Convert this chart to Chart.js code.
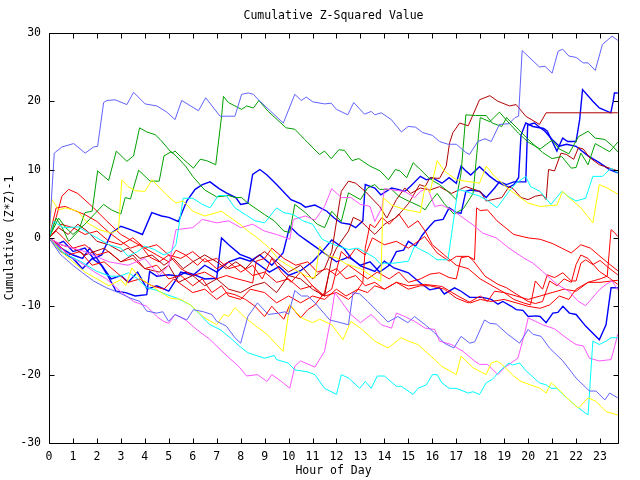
<!DOCTYPE html>
<html>
<head>
<meta charset="utf-8">
<script src="https://cdn.jsdelivr.net/npm/chart.js@4/dist/chart.umd.min.js"></script>
<style>
  body { margin: 0; background: #fff; }
</style>
</head>
<body>
<canvas id="chart" width="640" height="480"></canvas>
<script>
// Axis ticks
const hourTicks = [0, 1, 2, 3, 4, 5, 6, 7, 8, 9, 10, 11, 12, 13, 14, 15, 16, 17, 18, 19, 20, 21, 22, 23];
const valueTicks = [-30, -20, -10, 0, 10, 20, 30];

// Each series: [hour, cumulative value] vertices
const periwinkleHigh = [[0,0],[0.22,12.4],[0.54,13.3],[1.03,13.8],[1.51,12.4],[1.86,13.3],[2.03,13.4],[2.28,19.8],[2.42,20.1],[2.76,20.2],[3.25,19.5],[3.53,21.3],[4.01,19.6],[4.5,19.3],[4.92,18.4],[5.26,17.3],[5.54,20.1],[6.24,18.6],[6.54,20.5],[7.14,17.8],[7.76,17.8],[8.04,21.0],[8.32,21.2],[8.53,21.0],[8.74,20.2],[9.78,16.8],[10.26,21.0],[10.53,20.1],[10.74,20.6],[11.01,19.9],[11.5,19.6],[11.78,19.7],[12.0,18.8],[12.47,18.0],[12.72,19.8],[13.17,18.1],[13.45,18.5],[13.6,18.0],[13.87,18.3],[14.29,17.3],[14.71,15.5],[14.99,16.3],[15.3,16.2],[15.6,15.4],[16.0,15.0],[16.3,14.1],[16.65,13.7],[17.0,13.7],[17.4,12.5],[17.55,12.2],[17.9,14.1],[18.2,14.5],[18.46,14.1],[18.8,16.6],[19.2,16.7],[19.45,17.6],[19.6,17.8],[19.75,27.4],[20.47,25.0],[20.7,25.1],[21.0,24.1],[21.25,27.3],[21.44,27.6],[21.7,26.6],[22.0,26.4],[22.3,25.6],[22.5,25.6],[22.8,24.5],[23.1,28.3],[23.5,29.5],[23.74,28.9]];
const periwinkleLow = [[0,0],[0.47,-2.4],[1.03,-4.1],[1.4,-5.1],[1.86,-6.3],[2.4,-7.3],[2.9,-8.0],[3.39,-8.8],[3.8,-9.3],[4.08,-10.7],[4.5,-11.0],[4.75,-10.8],[4.99,-12.2],[5.26,-11.2],[5.75,-12.0],[6.03,-10.5],[6.44,-10.8],[6.8,-11.2],[7.0,-12.2],[7.4,-12.9],[7.76,-14.6],[8.0,-15.4],[8.3,-11.5],[8.7,-9.5],[9.15,-11.2],[9.6,-11.0],[9.85,-10.8],[10.0,-11.2],[10.26,-7.7],[10.54,-8.5],[10.8,-8.5],[11.1,-9.5],[11.72,-12.0],[12.06,-12.3],[12.5,-12.7],[12.69,-8.0],[12.97,-8.2],[13.3,-9.3],[13.7,-10.7],[14.15,-12.3],[14.56,-11.5],[14.98,-12.4],[15.26,-11.5],[15.7,-12.7],[16.1,-13.9],[16.5,-15.4],[16.9,-16.1],[17.2,-14.4],[17.56,-15.4],[17.77,-15.2],[18.18,-12.0],[18.4,-12.5],[18.67,-12.6],[19.15,-14.1],[19.64,-15.4],[20.0,-13.4],[20.2,-14.1],[20.54,-14.4],[20.89,-16.1],[21.45,-18.0],[22.0,-20.5],[22.56,-22.4],[22.83,-22.4],[23.2,-23.7],[23.4,-22.7],[23.74,-23.4]];
const greenHigh = [[0,0],[0.3,2.9],[0.55,1.5],[0.82,-0.5],[1.23,1.0],[1.5,3.7],[1.8,3.9],[2.03,9.8],[2.49,8.4],[2.81,12.7],[3.25,11.2],[3.53,12.0],[3.78,16.1],[4.08,15.5],[4.43,15.1],[4.64,14.4],[5.13,12.4],[5.26,12.7],[5.61,11.5],[6.03,10.2],[6.31,11.5],[6.58,11.3],[6.96,10.7],[7.21,18.0],[7.28,20.7],[7.49,19.8],[7.76,19.3],[8.04,18.8],[8.25,19.3],[8.53,19.0],[8.76,20.1],[9.15,18.5],[9.9,16.1],[10.26,15.9],[10.67,14.4],[11.29,12.2],[11.5,12.7],[11.78,11.6],[12.1,12.9],[12.33,12.8],[12.65,11.3],[12.93,11.6],[13.4,10.5],[13.82,9.8],[14.17,8.5],[14.46,10.0],[14.65,9.8],[14.93,8.8],[15.2,11.0],[15.5,10.0],[15.85,8.8],[16.05,8.3],[16.3,7.8],[16.65,6.8],[17.0,5.6],[17.2,9.5],[17.4,18.0],[17.8,17.9],[18.25,17.9],[18.5,16.8],[18.9,16.3],[19.1,17.6],[19.5,16.2],[20.0,14.4],[20.6,12.5],[21.0,11.6],[21.4,11.9],[21.8,10.2],[22.0,10.3],[22.2,12.4],[22.5,10.7],[22.8,13.8],[23.1,13.2],[23.4,12.6],[23.74,14.0]];
const greenLow = [[0,0],[0.4,2.9],[0.7,1.5],[1.0,0.5],[1.5,2.0],[2.28,4.9],[2.6,4.1],[3.0,3.5],[3.18,5.9],[3.4,5.7],[3.74,9.9],[4.22,8.3],[4.6,8.3],[4.8,12.0],[5.1,12.6],[5.3,12.0],[5.7,10.5],[6.0,9.0],[6.5,7.0],[7.0,6.0],[7.5,6.2],[7.76,5.9],[8.04,5.9],[8.3,5.1],[9.0,3.4],[9.4,2.5],[9.8,1.0],[10.05,0.8],[10.26,4.9],[10.7,3.7],[11.2,2.0],[11.5,1.5],[11.8,3.9],[12.2,2.4],[12.5,6.6],[13.0,5.6],[13.3,7.3],[13.6,7.8],[13.8,7.1],[14.3,7.1],[14.6,6.1],[15.0,5.4],[15.5,4.6],[15.7,4.1],[15.9,5.2],[16.2,6.5],[16.5,5.0],[16.9,3.5],[17.3,4.3],[17.7,6.5],[18.0,17.6],[18.4,17.0],[18.8,18.4],[19.2,16.8],[19.6,15.3],[20.0,14.0],[20.5,13.0],[21.0,14.3],[21.3,13.0],[21.7,12.3],[22.1,14.8],[22.5,15.6],[22.8,14.6],[23.2,14.4],[23.5,13.5],[23.74,12.6]];
const blueA = [[0,0],[0.3,-1.0],[0.6,-0.5],[1.0,-2.0],[1.5,-1.5],[1.86,-3.0],[2.2,-2.5],[2.6,0.7],[3.0,1.7],[3.4,1.2],[3.9,0.5],[4.29,3.7],[4.7,3.2],[5.0,3.0],[5.4,2.4],[5.75,5.4],[6.1,7.1],[6.4,7.8],[6.72,8.2],[7.1,7.2],[7.4,6.6],[7.8,5.9],[8.0,4.9],[8.3,5.1],[8.5,9.3],[8.8,10.0],[9.1,9.2],[9.5,7.8],[10.1,5.6],[10.5,5.0],[10.7,4.5],[11.1,4.8],[11.6,3.9],[11.9,2.9],[12.2,2.2],[12.55,2.0],[12.8,1.5],[13.1,2.5],[13.2,7.8],[13.6,7.3],[13.85,6.3],[14.3,7.3],[14.56,7.1],[14.85,6.8],[15.1,7.6],[15.5,9.0],[15.75,8.5],[16.0,8.8],[16.4,8.0],[16.7,8.8],[17.0,8.0],[17.2,10.5],[17.4,9.8],[17.6,9.2],[17.97,10.4],[18.4,9.0],[18.67,8.3],[18.94,7.8],[19.2,7.4],[19.4,7.8],[19.6,8.8],[19.7,15.0],[19.9,16.8],[20.2,16.3],[20.65,16.0],[20.8,15.6],[21.2,12.7],[21.44,14.6],[21.65,14.1],[22.0,14.1],[22.15,17.3],[22.27,21.7],[22.7,20.0],[22.97,19.0],[23.45,18.3],[23.55,20.0],[23.6,21.2],[23.74,21.2]];
const blueB = [[0,0],[0.5,-2.0],[1.0,-3.0],[1.4,-4.5],[1.8,-3.0],[2.2,-4.0],[2.6,-6.0],[3.0,-5.5],[3.3,-6.5],[3.7,-5.0],[4.1,-7.5],[4.5,-7.0],[5.0,-7.8],[5.5,-5.0],[6.0,-5.5],[6.5,-4.0],[7.0,-5.0],[7.5,-3.5],[7.97,-2.9],[8.4,-3.4],[8.8,-2.5],[9.3,-4.0],[9.77,-2.2],[10.05,1.7],[10.4,0.5],[10.8,-0.5],[11.2,-1.5],[11.6,-2.5],[12.0,-3.5],[12.5,-2.8],[13.0,-4.0],[13.4,-3.5],[13.8,-5.0],[14.2,-4.0],[14.5,-2.0],[14.8,-1.8],[15.0,-0.5],[15.3,-1.2],[15.6,0.5],[15.89,1.7],[16.1,2.5],[16.45,2.7],[16.7,4.4],[17.0,3.7],[17.2,3.6],[17.4,6.8],[17.6,7.0],[17.97,6.8],[18.25,5.9],[18.6,7.3],[18.8,8.2],[19.1,7.8],[19.4,8.2],[19.9,8.2],[19.98,16.5],[20.26,16.8],[20.4,16.4],[20.7,15.6],[21.0,14.4],[21.3,13.4],[21.6,13.7],[22.0,13.4],[22.5,12.0],[22.97,11.0],[23.4,10.0],[23.74,9.5]];
const blueC = [[0,0],[0.5,-1.5],[1.0,-2.5],[1.4,-3.0],[1.7,-1.5],[2.1,-3.5],[2.5,-5.8],[2.8,-7.8],[3.2,-8.0],[3.6,-8.5],[4.08,-8.3],[4.2,-4.9],[4.5,-5.6],[5.0,-5.4],[5.4,-5.6],[5.7,-5.0],[6.0,-5.3],[6.5,-6.0],[7.0,-5.9],[7.2,0.0],[7.5,-1.0],[7.97,-2.4],[8.4,-3.0],[8.8,-4.0],[9.2,-5.0],[9.6,-4.2],[10.0,-5.5],[10.5,-4.8],[11.0,-3.5],[11.4,-2.0],[11.8,-0.3],[12.3,-1.5],[12.6,-2.9],[13.0,-4.1],[13.6,-4.9],[14.0,-3.4],[14.4,-4.4],[15.0,-5.1],[15.5,-6.6],[15.89,-7.6],[16.3,-7.3],[16.5,-8.2],[16.93,-7.3],[17.2,-7.8],[17.56,-8.7],[18.1,-8.7],[18.46,-9.0],[18.74,-9.7],[18.94,-9.3],[19.3,-10.0],[19.5,-10.5],[19.78,-10.6],[20.0,-11.5],[20.33,-11.4],[20.5,-11.5],[20.75,-12.4],[21.03,-11.0],[21.24,-10.9],[21.45,-10.0],[21.72,-11.0],[22.0,-11.2],[22.4,-12.9],[22.97,-14.9],[23.25,-12.7],[23.46,-7.3],[23.74,-7.3]];
const darkRedA = [[0,0],[0.5,-1.0],[1.0,-1.5],[1.5,-2.5],[2.3,-1.5],[3.0,-3.5],[3.5,-2.5],[4.0,-4.5],[4.6,-5.0],[5.0,-4.0],[5.4,-6.5],[6.0,-5.5],[6.5,-7.0],[7.0,-6.0],[7.5,-7.5],[8.0,-8.0],[8.5,-7.0],[9.0,-6.5],[9.5,-8.0],[10.0,-5.5],[10.5,-6.0],[11.0,-7.5],[11.5,-8.5],[11.8,-3.0],[12.0,-1.5],[12.5,1.0],[12.7,3.0],[13.0,2.5],[13.3,1.5],[13.6,0.5],[14.0,2.0],[14.5,3.0],[15.0,5.0],[15.47,7.8],[15.7,7.5],[15.9,8.8],[16.3,8.7],[16.58,10.5],[16.72,13.9],[16.86,15.4],[17.14,16.8],[17.5,16.4],[17.97,20.2],[18.4,20.8],[18.73,20.0],[19.22,19.3],[19.5,19.5],[19.9,17.8],[20.47,16.6],[20.75,18.3],[23.74,18.3]];
const darkRedB = [[0,0],[0.4,1.5],[0.8,0.5],[1.2,2.0],[1.6,1.0],[2.0,-0.5],[2.5,-1.0],[3.0,-2.0],[3.3,-1.5],[3.8,-3.0],[4.3,-2.5],[4.8,-4.0],[5.2,-3.0],[5.6,-4.5],[6.0,-3.5],[6.5,-2.5],[7.0,-3.5],[7.4,-4.5],[7.8,-3.5],[8.2,-4.5],[8.6,-3.0],[9.0,-2.0],[9.5,-3.5],[10.0,-5.0],[10.5,-4.0],[11.0,-6.0],[11.5,-4.5],[11.8,-2.0],[12.2,6.8],[12.5,8.3],[12.8,8.0],[13.2,6.8],[13.8,4.6],[14.1,2.9],[14.5,5.6],[14.85,7.3],[15.1,6.5],[15.5,7.3],[15.9,7.0],[16.3,7.5],[16.8,6.5],[17.4,7.5],[18.0,6.8],[18.25,5.4],[18.9,5.9],[19.2,7.5],[19.4,7.1],[19.7,5.9],[20.0,5.6],[20.3,6.1],[20.6,6.3],[20.75,5.6],[20.85,10.0],[21.1,9.8],[21.37,12.4],[21.6,12.2],[21.9,11.5],[22.1,13.2],[22.3,13.0],[22.55,11.8],[22.97,10.7],[23.4,10.2],[23.74,9.8]];
const redA = [[0,0],[0.3,3.0],[0.54,6.1],[0.82,7.1],[1.2,6.5],[1.86,4.4],[2.4,2.5],[3.0,0.5],[3.5,-0.5],[4.0,-1.5],[4.5,-2.5],[5.0,-3.5],[5.3,-1.8],[5.7,-2.5],[6.2,-4.0],[6.5,-3.0],[7.0,-4.5],[7.5,-3.5],[8.0,-5.0],[8.5,-4.0],[8.9,-6.0],[9.3,-3.0],[9.7,-5.0],[10.1,-6.5],[10.5,-5.0],[11.0,-7.0],[11.4,-8.5],[11.8,-7.5],[12.2,-2.0],[12.5,-3.0],[12.8,-1.5],[13.2,-2.5],[13.5,0.0],[14.0,-1.0],[14.5,-0.5],[15.0,-1.5],[15.68,0.2],[16.2,-2.2],[16.7,-3.4],[17.0,-2.7],[17.5,-2.7],[17.76,-3.2],[17.85,4.4],[18.0,4.0],[18.3,4.1],[18.7,2.5],[19.4,0.5],[20.0,0.0],[20.5,-0.2],[21.0,-0.8],[21.4,-1.5],[21.8,-2.2],[22.2,-1.0],[22.6,-1.5],[23.0,-2.7],[23.45,-4.0],[23.74,-4.8]];
const redB = [[0,0],[0.3,4.4],[0.68,4.6],[1.0,4.1],[1.5,3.4],[2.0,2.4],[2.5,0.8],[3.0,-0.5],[3.4,-1.5],[3.8,-1.0],[4.2,-2.8],[4.6,-3.5],[5.0,-2.5],[5.5,-4.5],[6.0,-5.5],[6.5,-5.0],[7.0,-6.0],[7.4,-5.5],[7.76,-5.9],[8.2,-6.3],[8.5,-6.6],[8.65,-3.4],[9.0,-3.0],[9.3,-1.5],[9.8,-3.0],[10.3,-4.0],[10.8,-3.5],[11.2,-5.0],[11.6,-4.5],[12.0,-5.5],[12.5,-4.0],[12.9,-5.0],[13.3,-6.0],[13.7,-5.0],[14.2,-6.0],[14.6,-5.0],[15.0,-6.5],[15.5,-6.0],[15.9,-5.3],[16.3,-5.1],[16.7,-5.8],[17.0,-6.0],[17.2,-2.9],[17.5,-2.7],[17.7,-3.3],[18.2,-5.6],[18.74,-6.8],[19.1,-7.3],[19.5,-8.2],[20.0,-9.3],[20.3,-9.6],[20.6,-9.3],[20.9,-6.3],[21.2,-7.0],[21.5,-6.0],[21.8,-6.5],[22.0,-3.9],[22.2,-2.5],[22.5,-3.0],[22.97,-4.9],[23.4,-5.9],[23.74,-6.8]];
const redC = [[0,0],[0.4,-1.0],[0.8,-2.5],[1.3,-2.0],[1.8,-4.0],[2.3,-3.5],[2.8,-5.0],[3.3,-6.5],[3.8,-6.0],[4.3,-7.0],[4.8,-7.5],[5.2,-6.0],[5.6,-7.0],[6.0,-8.0],[6.5,-7.5],[7.0,-9.0],[7.4,-8.0],[7.76,-8.3],[8.2,-9.0],[8.6,-10.0],[9.0,-11.5],[9.3,-10.0],[9.8,-11.9],[10.05,-9.8],[10.5,-11.7],[10.8,-10.5],[11.1,-9.8],[11.5,-8.0],[11.7,-5.0],[12.0,-4.5],[12.4,-6.0],[12.8,-5.5],[13.2,-7.0],[13.6,-6.5],[14.0,-7.5],[14.5,-6.5],[15.0,-7.0],[15.68,-6.8],[16.4,-7.1],[17.07,-8.5],[17.6,-9.5],[18.0,-9.0],[18.46,-9.3],[19.0,-9.0],[19.5,-9.5],[20.0,-10.0],[20.5,-10.3],[20.9,-9.8],[21.3,-8.5],[21.7,-9.0],[22.0,-7.5],[22.5,-6.5],[23.0,-6.0],[23.3,-5.6],[23.46,1.2],[23.6,0.8],[23.74,0.2]];
const redD = [[0,0],[0.3,1.0],[0.6,0.0],[1.0,-1.5],[1.5,-1.0],[2.0,-2.5],[2.5,-2.0],[3.0,-3.5],[3.5,-3.0],[4.0,-4.5],[4.5,-4.0],[5.0,-6.0],[5.5,-5.5],[6.0,-7.0],[6.4,-6.0],[6.8,-8.0],[7.2,-7.0],[7.5,-8.5],[8.0,-9.0],[8.4,-7.5],[9.0,-8.0],[9.5,-9.5],[10.0,-8.5],[10.5,-9.5],[11.0,-8.5],[11.5,-9.0],[12.0,-7.5],[12.4,-8.5],[12.9,-7.5],[13.3,-8.0],[13.6,-7.0],[14.0,-7.5],[14.5,-6.5],[15.0,-7.5],[15.5,-7.0],[15.9,-7.0],[16.5,-7.5],[17.0,-8.8],[17.5,-9.5],[18.0,-8.5],[18.3,-9.3],[18.6,-7.8],[19.0,-8.0],[19.4,-9.0],[19.8,-9.5],[20.1,-9.8],[20.3,-6.3],[20.6,-7.5],[20.8,-5.4],[21.1,-5.8],[21.45,-5.1],[21.8,-6.3],[22.0,-6.3],[22.2,-3.7],[22.4,-3.2],[22.7,-3.9],[23.0,-3.3],[23.3,-4.2],[23.74,-5.4]];
const redE = [[0,0],[0.5,2.0],[1.0,1.5],[1.5,0.5],[2.0,1.0],[2.5,-0.5],[3.0,-1.0],[3.5,0.0],[4.0,-1.5],[4.5,-1.0],[5.0,-2.5],[5.5,-3.0],[6.0,-2.0],[6.5,-3.5],[7.0,-3.0],[7.5,-4.5],[8.0,-4.0],[8.5,-5.5],[9.0,-5.0],[9.5,-6.5],[10.0,-6.0],[10.5,-7.5],[11.0,-7.0],[11.5,-8.5],[12.0,-8.0],[12.5,-9.0],[12.8,-8.0],[13.1,-6.5],[13.2,-1.5],[13.4,2.0],[13.6,1.5],[13.9,3.0],[14.2,2.0],[14.6,3.5],[15.0,1.5],[15.4,2.5],[15.7,1.0],[16.0,-1.0],[16.5,-2.5],[17.0,-4.0],[17.5,-4.5],[18.0,-6.0],[18.5,-7.0],[19.0,-8.0],[19.5,-8.5],[20.0,-9.0],[20.5,-8.5],[21.0,-8.0],[21.5,-7.5],[22.0,-7.8],[22.5,-6.5],[23.0,-6.5],[23.74,-6.2]];
const yellowHigh = [[0,0],[0.12,5.6],[0.4,4.1],[0.7,4.4],[1.2,3.9],[1.6,2.2],[2.1,1.2],[2.6,0.7],[2.9,1.2],[3.04,8.5],[3.3,7.5],[3.6,6.9],[4.0,6.8],[4.3,8.5],[4.9,6.3],[5.3,5.1],[5.6,5.4],[6.0,3.9],[6.5,3.2],[7.2,3.9],[7.6,2.9],[7.97,2.0],[8.3,1.0],[8.7,0.0],[9.2,-1.5],[9.6,-3.2],[10.2,-4.5],[10.75,-5.6],[11.1,-5.9],[11.3,-1.2],[11.6,-2.6],[12.0,-2.9],[12.4,-3.8],[13.0,-4.5],[13.7,-6.1],[13.85,-6.3],[13.95,5.9],[14.3,4.8],[14.8,4.2],[15.5,3.7],[15.7,7.6],[15.9,6.6],[16.2,11.3],[16.5,9.8],[17.0,8.5],[17.97,8.0],[18.25,10.5],[18.6,9.0],[19.2,7.1],[19.99,5.1],[20.5,4.6],[21.2,4.8],[21.44,6.8],[21.7,5.9],[22.2,4.4],[22.7,2.2],[22.97,7.8],[23.3,7.3],[23.74,6.4]];
const yellowLow = [[0,0],[0.5,-2.0],[1.0,-3.5],[1.5,-5.0],[2.0,-6.0],[2.5,-7.0],[3.0,-6.1],[3.2,-7.0],[3.46,-4.4],[3.8,-5.9],[4.2,-6.8],[4.6,-7.8],[5.05,-8.8],[5.5,-9.0],[5.9,-9.8],[6.5,-11.7],[7.0,-12.7],[7.3,-11.2],[7.5,-11.5],[7.76,-10.2],[8.2,-11.7],[8.6,-12.8],[9.1,-14.1],[9.5,-15.6],[9.77,-16.6],[10.05,-9.8],[10.54,-11.7],[11.0,-12.4],[11.3,-11.9],[11.8,-12.7],[12.27,-14.9],[12.6,-12.2],[13.0,-13.2],[13.6,-15.1],[14.15,-16.1],[14.7,-14.6],[15.0,-15.1],[15.4,-15.6],[16.1,-17.8],[16.4,-18.8],[17.0,-20.0],[17.2,-17.3],[17.7,-19.0],[18.25,-20.0],[18.46,-18.3],[18.7,-18.0],[18.9,-18.5],[19.4,-20.2],[19.7,-21.0],[20.5,-22.0],[20.75,-22.7],[20.96,-21.2],[21.2,-21.9],[21.7,-23.7],[22.1,-24.9],[22.5,-23.4],[22.83,-23.9],[23.25,-25.4],[23.74,-25.9]];
const cyanLow = [[0,0],[0.6,-2.2],[1.3,-3.4],[2.0,-4.9],[2.56,-5.6],[2.97,-5.6],[3.32,-5.1],[3.67,-5.9],[4.08,-7.3],[4.43,-7.6],[4.92,-8.3],[5.33,-8.8],[5.9,-9.8],[6.3,-11.2],[6.72,-12.7],[7.14,-13.4],[7.56,-14.6],[7.97,-15.9],[8.3,-16.8],[9.0,-17.6],[9.4,-17.2],[9.5,-17.8],[9.98,-18.3],[10.26,-19.3],[10.8,-19.6],[11.1,-20.0],[11.5,-22.0],[12.0,-22.9],[12.2,-20.0],[12.5,-20.5],[12.97,-22.0],[13.2,-21.0],[13.45,-22.0],[13.7,-20.2],[14.0,-20.2],[14.5,-21.7],[14.7,-21.7],[15.2,-22.9],[15.4,-22.0],[15.75,-21.5],[16.0,-20.0],[16.2,-20.0],[16.4,-21.2],[16.7,-22.0],[17.0,-22.0],[17.5,-22.7],[17.7,-22.5],[17.97,-22.9],[18.25,-21.2],[18.5,-20.7],[18.87,-19.3],[19.2,-18.3],[19.35,-18.6],[19.64,-18.3],[19.9,-19.4],[20.47,-21.2],[20.75,-21.5],[20.96,-22.0],[21.2,-22.0],[21.45,-22.9],[22.0,-24.6],[22.5,-25.9],[22.7,-15.1],[22.97,-15.6],[23.25,-15.1],[23.46,-14.6],[23.74,-14.6]];
const cyanHigh = [[0,0],[0.2,2.4],[0.6,1.5],[1.23,1.6],[1.6,0.8],[2.0,0.0],[2.5,-1.0],[3.0,-1.5],[3.3,-2.7],[3.7,-2.0],[4.0,-1.2],[4.4,-1.7],[4.8,-2.5],[5.1,-2.0],[5.3,-1.0],[5.6,5.8],[6.0,5.8],[6.4,4.9],[6.72,4.4],[7.07,6.2],[7.4,6.2],[7.76,4.4],[8.2,3.4],[8.6,2.5],[9.0,2.2],[9.5,4.4],[9.8,3.7],[10.2,3.4],[10.6,2.5],[11.0,2.0],[11.4,-0.2],[11.9,-1.0],[12.5,-1.7],[12.9,-1.5],[13.6,-2.9],[13.8,-3.7],[14.4,-3.7],[15.0,-3.4],[15.26,-1.2],[15.5,-1.7],[15.8,-2.2],[16.2,-3.2],[16.65,-3.2],[17.07,7.1],[17.4,6.8],[17.97,6.1],[18.3,5.5],[18.7,4.4],[19.2,6.8],[19.5,8.0],[19.9,9.0],[20.1,7.5],[20.5,6.8],[20.95,4.9],[21.4,6.8],[21.7,6.0],[22.0,5.4],[22.4,5.8],[22.7,9.0],[23.1,9.0],[23.46,10.2],[23.74,9.5]];
const magentaLow = [[0,0],[0.5,-1.5],[1.0,-3.0],[1.5,-4.0],[1.86,-4.9],[2.4,-6.0],[2.97,-7.8],[3.53,-9.3],[4.08,-10.0],[4.5,-11.5],[4.78,-12.2],[5.0,-12.5],[5.26,-11.2],[5.7,-12.0],[6.2,-13.5],[6.7,-14.8],[7.2,-16.5],[7.5,-17.5],[7.76,-18.3],[7.97,-19.0],[8.25,-20.2],[8.7,-20.0],[9.1,-21.0],[9.3,-20.0],[9.7,-21.0],[10.05,-22.0],[10.26,-18.8],[10.5,-18.0],[11.1,-18.9],[11.5,-16.6],[11.75,-12.0],[11.93,-8.0],[12.2,-9.3],[12.6,-11.2],[13.0,-12.4],[13.45,-11.2],[13.87,-12.7],[14.3,-13.2],[14.5,-11.0],[14.85,-11.5],[15.26,-12.2],[15.7,-13.2],[16.1,-13.4],[16.3,-15.1],[16.8,-15.6],[17.28,-16.6],[17.76,-18.0],[17.97,-18.5],[18.3,-18.5],[18.74,-20.0],[19.0,-19.0],[19.57,-17.6],[19.85,-14.0],[20.0,-11.7],[20.3,-12.2],[20.6,-12.7],[21.1,-13.3],[21.58,-14.6],[22.0,-15.6],[22.3,-15.8],[22.56,-17.6],[22.97,-18.0],[23.46,-17.8],[23.6,-16.0],[23.74,-14.1]];
const magentaHigh = [[0,0],[0.5,-1.0],[1.5,-2.0],[2.5,-3.5],[3.3,-4.0],[4.0,-3.0],[4.6,-5.5],[5.0,-4.0],[5.3,1.2],[6.0,1.5],[6.4,2.7],[7.0,2.2],[7.5,2.5],[8.0,1.5],[8.5,2.0],[9.0,1.0],[9.5,0.5],[10.05,-0.2],[10.2,2.7],[10.7,3.2],[11.1,2.6],[11.5,4.6],[11.8,7.2],[12.2,5.9],[12.6,5.9],[13.0,4.9],[13.4,4.6],[13.6,2.4],[13.9,4.5],[14.0,7.2],[14.4,7.0],[14.85,6.8],[15.26,5.9],[15.5,6.8],[15.8,7.3],[16.1,4.6],[16.4,4.8],[16.9,3.9],[17.3,2.9],[17.7,1.9],[18.1,0.7],[18.67,0.0],[19.2,-1.5],[19.8,-2.9],[20.2,-3.7],[20.6,-4.9],[21.2,-6.8],[21.7,-7.8],[22.1,-9.3],[22.4,-9.9],[22.97,-7.6],[23.25,-6.8],[23.5,-6.3],[23.74,-7.6]];

const FONT = "'DejaVu Sans Mono', monospace";

function toPoints(rows) {
  return rows.map(([h, v]) => ({ x: h, y: v }));
}

function line(rows, color, width) {
  return {
    data: toPoints(rows),
    borderColor: color,
    borderWidth: width || 1,
    pointRadius: 0,
    tension: 0,
    fill: false,
  };
}

// Inward ticks on all four sides plus the box around the plot
const frameTicks = {
  id: "frameTicks",
  afterDatasetsDraw(chart) {
    const { ctx, chartArea: a, scales } = chart;
    const left = Math.round(a.left) + 0.5, right = Math.round(a.right) + 0.5;
    const top = Math.round(a.top) + 0.5, bottom = Math.round(a.bottom) + 0.5;
    ctx.save();
    ctx.strokeStyle = "#000";
    ctx.lineWidth = 1;
    ctx.beginPath();
    hourTicks.forEach((h) => {
      const px = Math.round(scales.x.getPixelForValue(h)) + 0.5;
      ctx.moveTo(px, bottom); ctx.lineTo(px, bottom - 5);
      ctx.moveTo(px, top); ctx.lineTo(px, top + 5);
    });
    valueTicks.forEach((v) => {
      const py = Math.round(scales.y.getPixelForValue(v)) + 0.5;
      ctx.moveTo(left, py); ctx.lineTo(left + 5, py);
      ctx.moveTo(right, py); ctx.lineTo(right - 5, py);
    });
    ctx.rect(left, top, right - left, bottom - top);
    ctx.stroke();
    ctx.restore();
  },
};

const ctx = document.getElementById("chart").getContext("2d");
const chart = new Chart(ctx, {
  type: "line",
  data: {
    datasets: [
      line(periwinkleHigh, "#6262ff"),
      line(periwinkleLow, "#6262ff"),
      line(yellowHigh, "#ffff00"),
      line(yellowLow, "#ffff00"),
      line(cyanHigh, "#00ffff"),
      line(cyanLow, "#00ffff"),
      line(magentaHigh, "#ff55ff"),
      line(magentaLow, "#ff55ff"),
      line(greenHigh, "#00a000"),
      line(greenLow, "#00a000"),
      line(darkRedA, "#b00000"),
      line(darkRedB, "#b00000"),
      line(redA, "#ff0000"),
      line(redB, "#ff0000"),
      line(redC, "#ff0000"),
      line(redD, "#ff0000"),
      line(redE, "#ff0000"),
      line(blueA, "#0000ff", 1.4),
      line(blueB, "#0000ff", 1.4),
      line(blueC, "#0000ff", 1.4),
    ],
  },
  options: {
    responsive: false,
    animation: false,
    devicePixelRatio: 1,
    layout: { padding: { top: 0, right: 22, bottom: 0, left: 0 } },
    plugins: {
      legend: { display: false },
      tooltip: { enabled: false },
      title: {
        display: true,
        text: "Cumulative Z-Squared Value",
        fullSize: false,
        color: "#000",
        font: { family: FONT, size: 11.5, weight: "normal", lineHeight: 1.2 },
        padding: { top: 9, bottom: 10 },
      },
    },
    scales: {
      x: {
        type: "linear",
        min: 0,
        max: 23.75,
        grid: { display: false, drawTicks: false },
        border: { display: false },
        ticks: {
          stepSize: 1,
          includeBounds: false,
          autoSkip: false,
          maxRotation: 0,
          padding: 7,
          color: "#000",
          font: { family: FONT, size: 11.5 },
        },
        title: {
          display: true,
          text: "Hour of Day",
          color: "#000",
          font: { family: FONT, size: 11.5, lineHeight: 1.2 },
          padding: { top: 0, bottom: 2 },
        },
        afterFit: (scale) => { scale.height = 37; },
      },
      y: {
        min: -30,
        max: 30,
        grid: { display: false, drawTicks: false },
        border: { display: false },
        ticks: {
          stepSize: 10,
          padding: 8,
          color: "#000",
          font: { family: FONT, size: 11.5 },
        },
        title: {
          display: true,
          text: "Cumulative (Z*Z)-1",
          color: "#000",
          font: { family: FONT, size: 11.5, lineHeight: 1.2 },
          padding: { top: 3, bottom: 0 },
        },
        afterFit: (scale) => { scale.width = 49; },
      },
    },
  },
  plugins: [frameTicks],
});
</script>
</body>
</html>
